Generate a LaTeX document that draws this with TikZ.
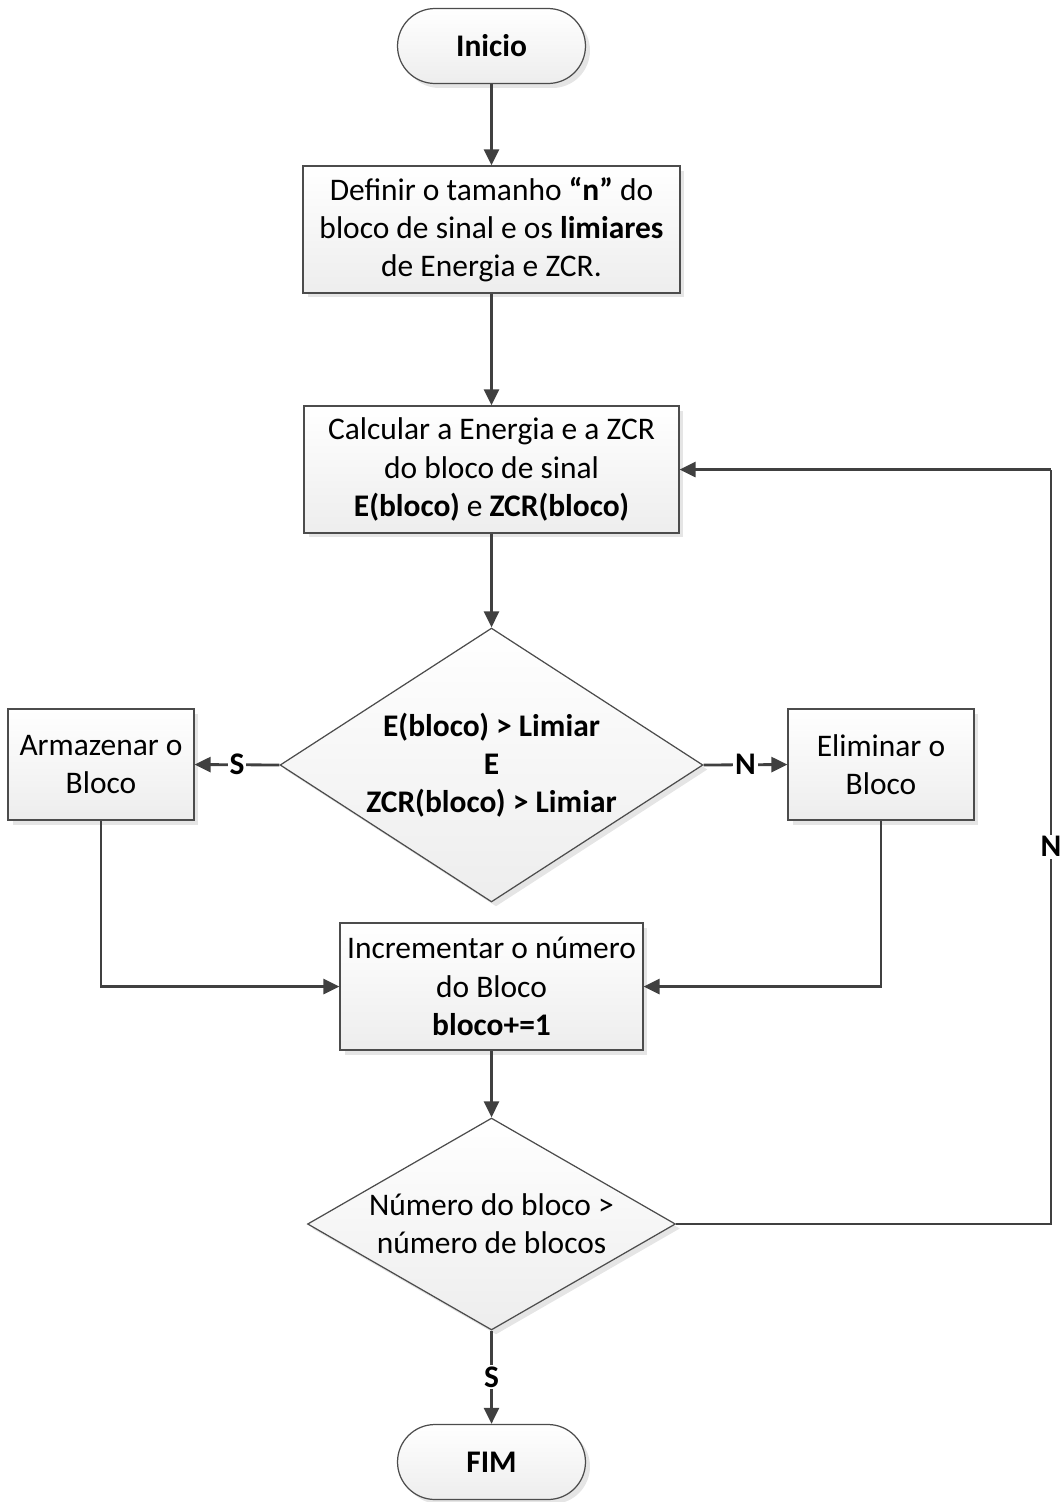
\documentclass[tikz,border=0pt]{standalone}
\usepackage{fontspec}
\setmainfont{Carlito}
\usetikzlibrary{shapes.geometric,shadows,arrows.meta}
\begin{document}
\begin{tikzpicture}[x=0.02cm,y=-0.02cm,
  every node/.style={font=\fontsize{17.9}{21.8}\selectfont, align=center},
  shapebase/.style={draw=black!70, line width=0.7pt, top color=white, bottom color=black!7,
    drop shadow={shadow xshift=0.09cm, shadow yshift=-0.09cm, fill=black!10, opacity=1}},
  procbox/.style={shapebase, rectangle, inner sep=2pt},
  termbox/.style={shapebase, rectangle, rounded corners=0.75cm, minimum width=3.76cm, minimum height=1.5cm},
  decbox/.style={shapebase, diamond, inner sep=0pt},
  conn/.style={draw=black!75, line width=1.6pt, -{Triangle[length=0.32cm,width=0.3cm]}},
  plainconn/.style={draw=black!75, line width=1.6pt},
  lab/.style={fill=white, inner sep=1pt, font=\fontsize{17.9}{21.8}\selectfont\bfseries}]
\useasboundingbox (0,0) rectangle (1064,1502);

\node[termbox] (start) at (491.5,46) {\textbf{Inicio}};
\node[procbox, minimum width=7.54cm, minimum height=2.54cm] (b1) at (491.5,229.5)
  {Definir o tamanho \textbf{“n”} do\\bloco de sinal e os \textbf{limiares}\\de Energia e ZCR.};
\node[procbox, minimum width=7.5cm, minimum height=2.54cm] (b2) at (491.5,469.5)
  {Calcular a Energia e a ZCR\\do bloco de sinal\\\textbf{E(bloco)} e \textbf{ZCR(bloco)}};
\node[decbox, minimum width=8.46cm, minimum height=5.48cm] (d1) at (491.5,765) {};
\node (d1t) at (d1.center) {\textbf{E(bloco) > Limiar}\\\textbf{E}\\\textbf{ZCR(bloco) > Limiar}};
\node[procbox, minimum width=3.72cm, minimum height=2.22cm] (arm) at (101,764.5) {Armazenar o\\Bloco};
\node[procbox, minimum width=3.72cm, minimum height=2.22cm] (eli) at (881,764.5) {Eliminar o\\Bloco};
\node[procbox, minimum width=6.06cm, minimum height=2.54cm] (b3) at (491.5,986.5)
  {Incrementar o número\\do Bloco\\\textbf{bloco+=1}};
\node[decbox, minimum width=7.36cm, minimum height=4.24cm] (d2) at (491.5,1224) {};
\node (d2t) at (d2.center) {Número do bloco >\\número de blocos};
\node[termbox] (fim) at (491.5,1462) {\textbf{FIM}};

\coordinate (fbb) at (1051,1224);
\coordinate (fbt) at (1051,469.5);

\draw[conn] (start) -- (b1);
\draw[conn] (b1) -- (b2);
\draw[conn] (b2) -- (d1);
\draw[conn] (d1.west) -- node[lab]{S} (arm.east);
\draw[conn] (d1.east) -- node[lab]{N} (eli.west);
\draw[conn] (arm.south) |- (b3.west);
\draw[conn] (eli.south) |- (b3.east);
\draw[conn] (b3) -- (d2);
\draw[conn] (d2.south) -- node[lab]{S} (fim.north);
\draw[plainconn] (d2.east) -- (fbb) -- node[lab]{N} (fbt);
\draw[conn] (fbt) -- (b2.east);
\end{tikzpicture}
\end{document}
